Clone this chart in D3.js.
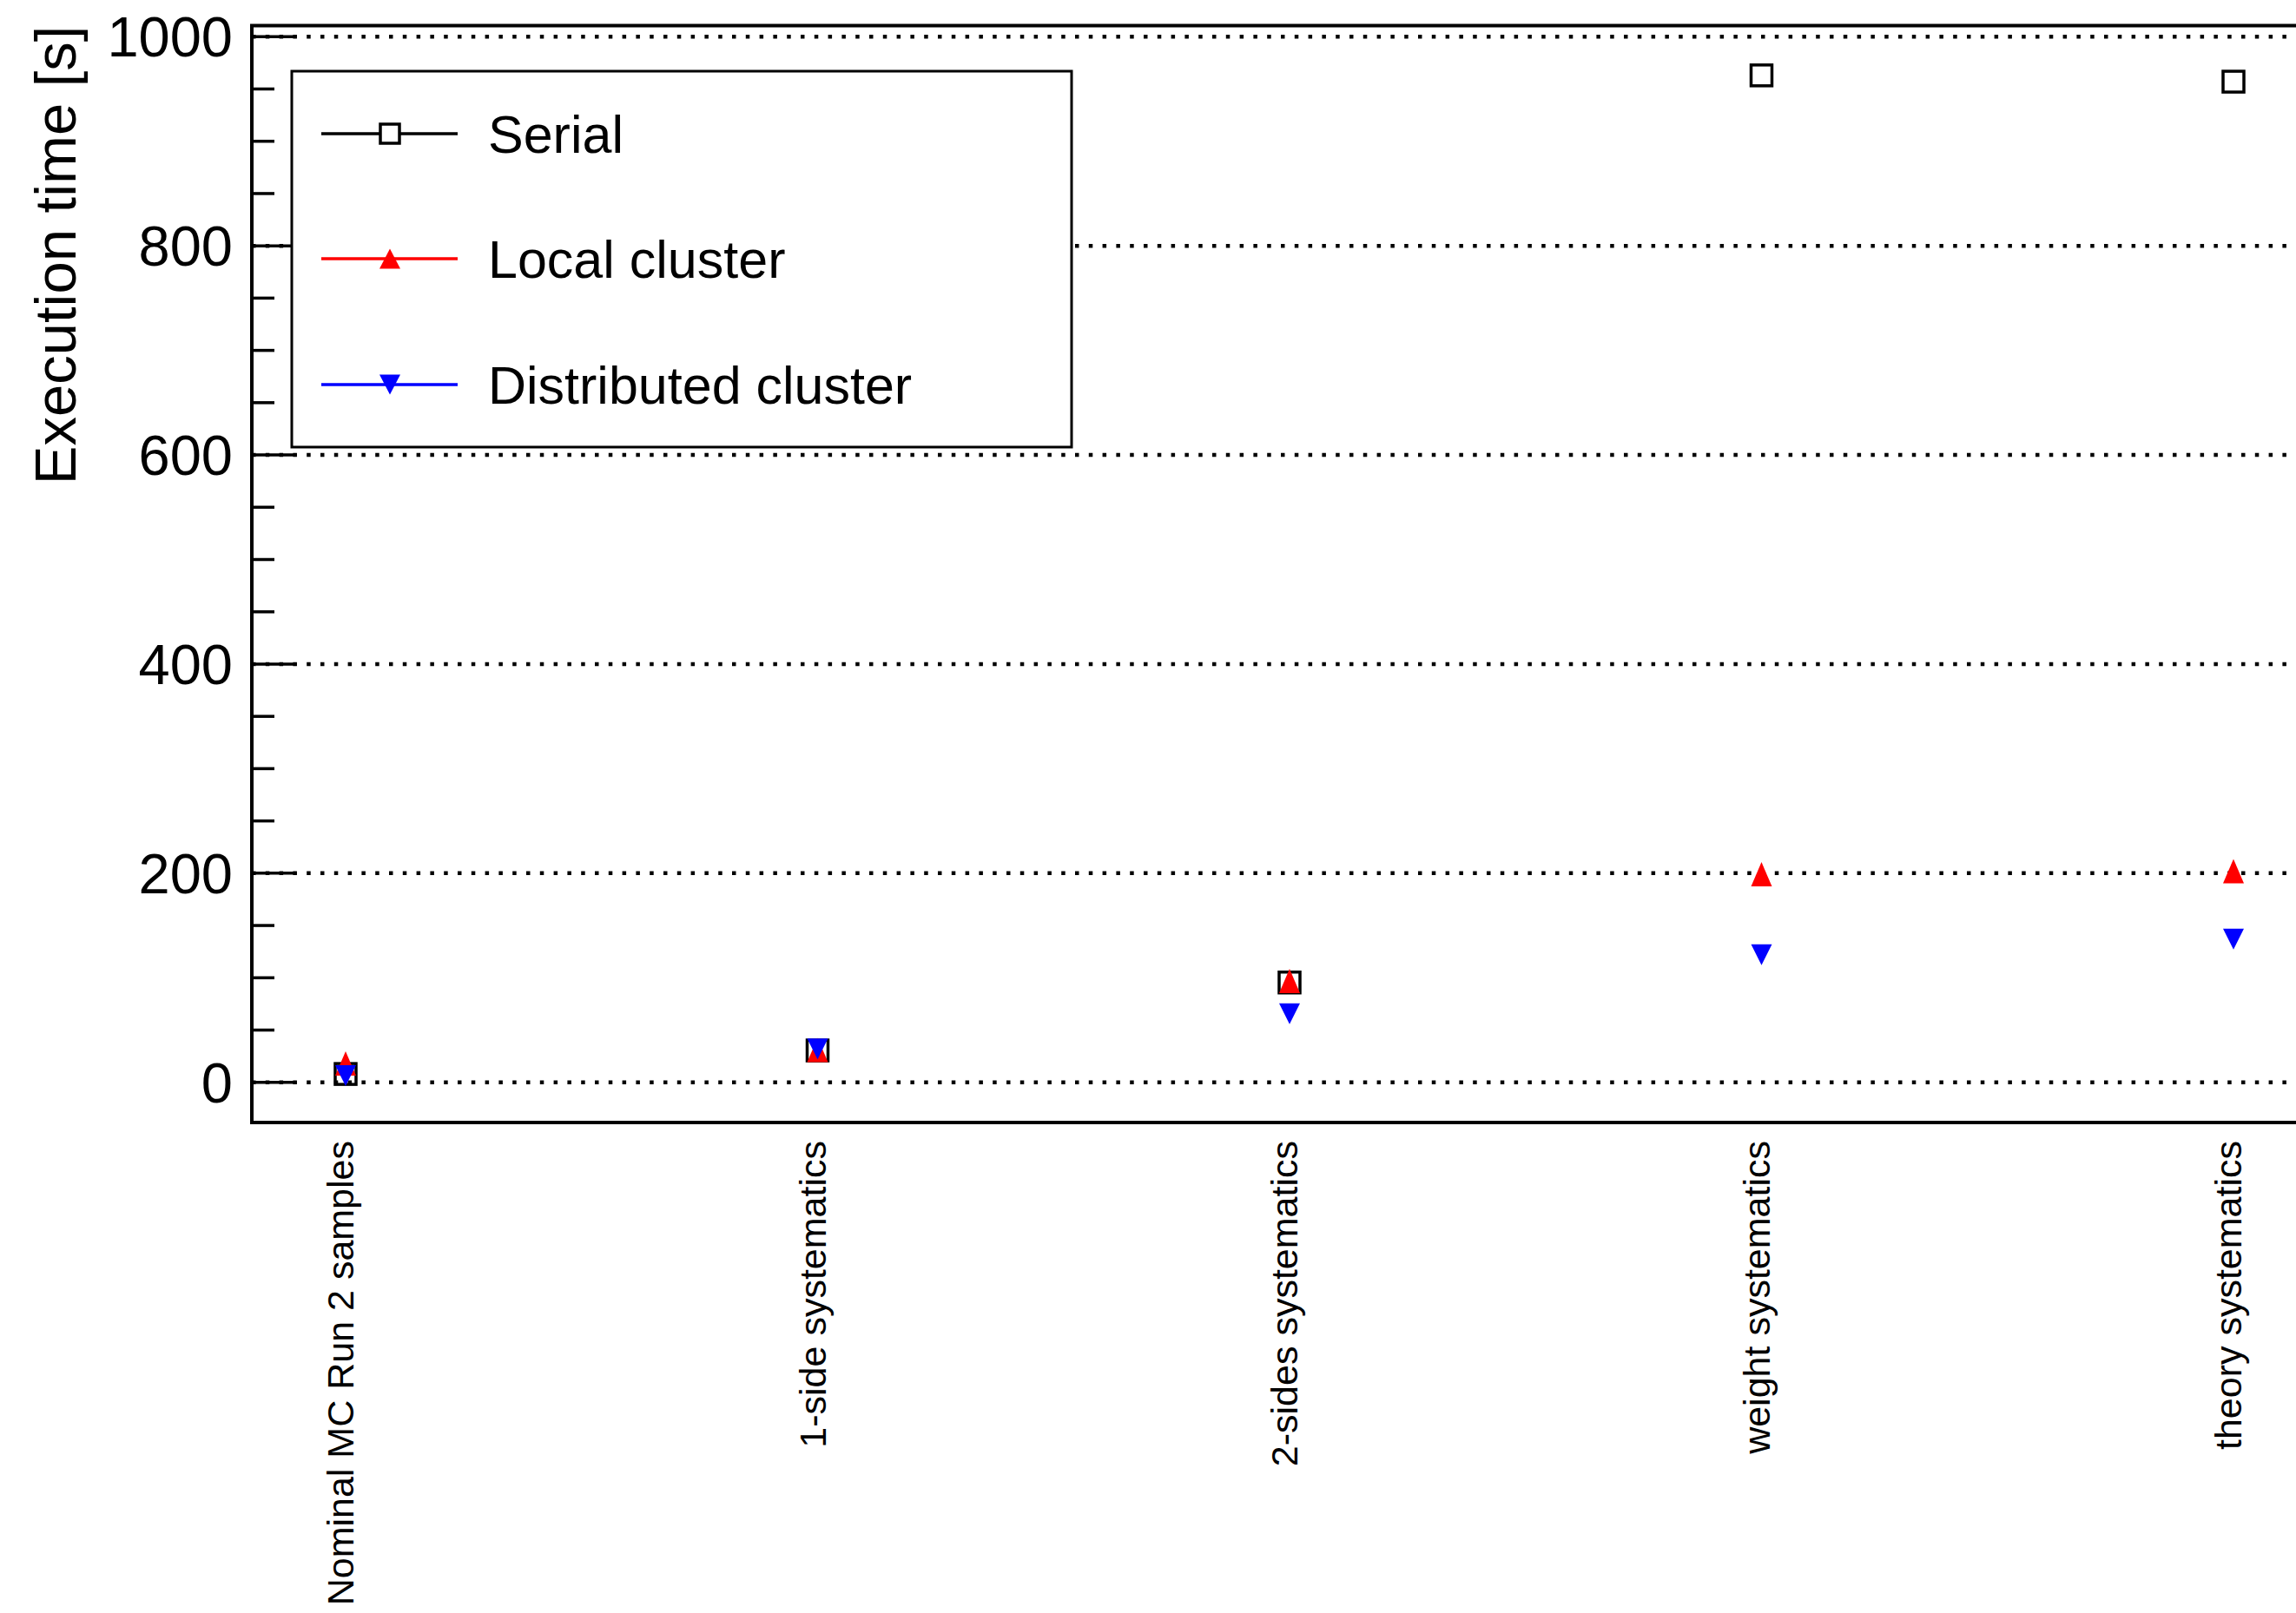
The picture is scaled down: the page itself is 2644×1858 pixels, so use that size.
<!DOCTYPE html>
<html>
<head>
<meta charset="utf-8">
<script src="https://cdn.jsdelivr.net/npm/d3@7"></script>
<style>
  html, body { margin: 0; padding: 0; background: #fff; }
  svg { display: block; font-family: "Liberation Sans", Arial, Helvetica, sans-serif; }
</style>
</head>
<body>
<script>
// ---- data ----
const categories = ["Nominal MC Run 2 samples", "1-side systematics", "2-sides systematics", "weight systematics", "theory systematics"];
const serial = [8, 30.5, 95.5, 963, 957];
const localCluster = [18, 31, 97, 199, 202];
const distributedCluster = [6.5, 32, 65.5, 122, 137];
const yTicks = [0, 200, 400, 600, 800, 1000];
const seriesNames = ["Serial", "Local cluster", "Distributed cluster"];

// ---- layout ----
const W = 2644, H = 1858;
const svg = d3.select("body").append("svg").attr("width", W).attr("height", H);

const frameLeft = 290, frameTop = 29.5, frameBottom = 1293, frameRight = 2700;
const x = d3.scaleLinear().domain([0, categories.length - 1]).range([398, 2572]);
const y = d3.scaleLinear().domain([-38.4, 1010.6]).range([frameBottom, frameTop]);

// gridlines (dotted)
svg.append("g").selectAll("line").data(yTicks).join("line")
  .attr("x1", frameLeft).attr("x2", W + 10)
  .attr("y1", d => y(d)).attr("y2", d => y(d))
  .attr("stroke", "#000").attr("stroke-width", 4.5)
  .attr("stroke-dasharray", "4.5 11.3");

// y axis ticks (inside), major + minor
const minor = d3.range(0, 1001, 50).filter(v => v % 200 !== 0);
svg.append("g").selectAll("line").data(minor).join("line")
  .attr("x1", frameLeft).attr("x2", frameLeft + 26)
  .attr("y1", d => y(d)).attr("y2", d => y(d))
  .attr("stroke", "#000").attr("stroke-width", 3.5);
svg.append("g").selectAll("line").data(yTicks).join("line")
  .attr("x1", frameLeft).attr("x2", frameLeft + 52)
  .attr("y1", d => y(d)).attr("y2", d => y(d))
  .attr("stroke", "#000").attr("stroke-width", 3.5);

// y tick labels
svg.append("g").selectAll("text").data(yTicks).join("text")
  .attr("x", 268).attr("y", d => y(d) + 23)
  .attr("text-anchor", "end").attr("font-size", 65).attr("fill", "#000")
  .text(d => d3.format("d")(d));

// y title
svg.append("text")
  .attr("transform", `translate(87,${frameTop}) rotate(-90)`)
  .attr("text-anchor", "end").attr("font-size", 67).attr("fill", "#000")
  .text("Execution time [s]");

// x labels
svg.append("g").selectAll("text").data(categories).join("text")
  .attr("transform", (d, i) => `translate(${x(i) + 9},1314) rotate(-90)`)
  .attr("text-anchor", "end").attr("font-size", 43).attr("fill", "#000")
  .text(d => d);

// frame
svg.append("path")
  .attr("d", `M${frameRight},${frameTop} H${frameLeft} V${frameBottom} H${frameRight}`)
  .attr("fill", "none").attr("stroke", "#000").attr("stroke-width", 4);

// marker helpers
function square(g, cx, cy) {
  g.append("rect").attr("x", cx - 12).attr("y", cy - 12).attr("width", 24).attr("height", 24)
    .attr("fill", "none").attr("stroke", "#000").attr("stroke-width", 3.5);
}
function triUp(g, cx, cy, w, h, color) {
  g.append("path").attr("d", `M${cx - w/2},${cy + h/2} L${cx + w/2},${cy + h/2} L${cx},${cy - h/2} Z`)
    .attr("fill", color);
}
function triDown(g, cx, cy, w, h, color) {
  g.append("path").attr("d", `M${cx - w/2},${cy - h/2} L${cx + w/2},${cy - h/2} L${cx},${cy + h/2} Z`)
    .attr("fill", color);
}

// points
const pts = svg.append("g");
serial.forEach((v, i) => square(pts, x(i), y(v)));
localCluster.forEach((v, i) => triUp(pts, x(i), y(v), 24, 28, "#ff0000"));
distributedCluster.forEach((v, i) => triDown(pts, x(i), y(v), 24, 24, "#0000ff"));

// legend
const leg = svg.append("g");
leg.append("rect").attr("x", 336).attr("y", 82).attr("width", 898).attr("height", 433)
  .attr("fill", "#fff").attr("stroke", "#000").attr("stroke-width", 3);
const rowY = [154, 298, 443];
const colors = ["#000", "#ff0000", "#0000ff"];
seriesNames.forEach((name, k) => {
  leg.append("line").attr("x1", 370).attr("x2", 527).attr("y1", rowY[k]).attr("y2", rowY[k])
    .attr("stroke", colors[k]).attr("stroke-width", 3.5);
  if (k === 0) {
    leg.append("rect").attr("x", 449 - 11).attr("y", rowY[k] - 11).attr("width", 22).attr("height", 22)
      .attr("fill", "#fff").attr("stroke", "#000").attr("stroke-width", 3.5);
  } else if (k === 1) {
    triUp(leg, 449, rowY[k], 24, 23, "#ff0000");
  } else {
    triDown(leg, 449, rowY[k], 24, 23, "#0000ff");
  }
  leg.append("text").attr("x", 562).attr("y", rowY[k] + 22)
    .attr("font-size", 61).attr("fill", "#000").text(name);
});
</script>
</body>
</html>
